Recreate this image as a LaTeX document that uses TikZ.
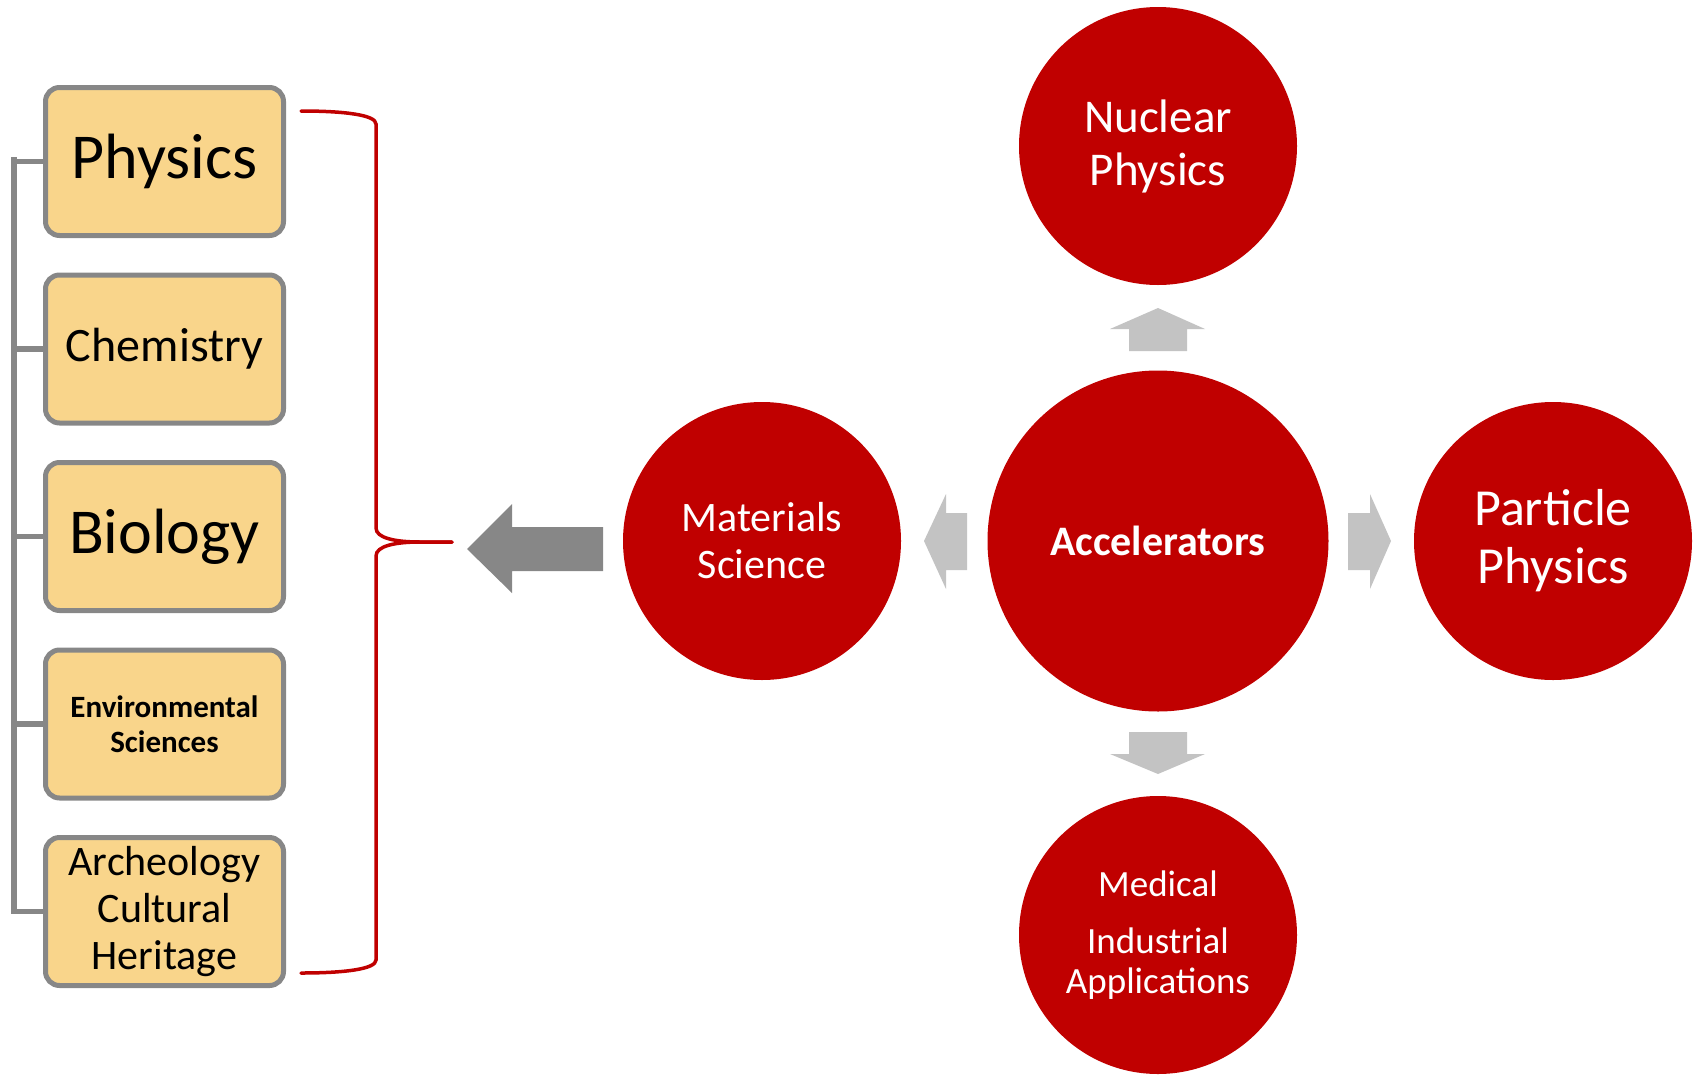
\documentclass[tikz,border=0pt]{standalone}
\usepackage{fontspec}
\setmainfont{Carlito}
\definecolor{accred}{HTML}{C00000}
\definecolor{boxfill}{HTML}{F9D58B}
\definecolor{boxline}{HTML}{878787}
\definecolor{darkarrow}{HTML}{878787}
\definecolor{lightarrow}{HTML}{C3C3C3}
\tikzset{
  fieldbox/.style={draw=boxline, fill=boxfill, line width=5pt, rounded corners=14pt,
    minimum width=238pt, minimum height=148pt, inner sep=0pt, align=center, text=black},
  bigcirc/.style={circle, fill=accred, draw=none, inner sep=0pt, text=white, align=center},
  treeline/.style={draw=boxline, line width=5.5pt},
  bracepath/.style={draw=accred, line width=3.5pt, line cap=round},
  lightblock/.style={fill=lightarrow, draw=none},
  darkblock/.style={fill=darkarrow, draw=none}
}
\begin{document}
\begin{tikzpicture}[x=1pt, y=-1pt]
\useasboundingbox (0,0) rectangle (1698,1074);

% field boxes
\node[fieldbox, font=\fontsize{64}{68}\selectfont] (phys) at (164.5,161.5) {Physics};
\node[fieldbox, font=\fontsize{48}{52}\selectfont] (chem) at (164.5,349) {Chemistry};
\node[fieldbox, font=\fontsize{64}{68}\selectfont] (bio) at (164.5,536.5) {Biology};
\node[fieldbox, font=\bfseries\fontsize{31}{35}\selectfont] (env) at (164.5,724) {Environmental\\Sciences};
\node[fieldbox, font=\fontsize{42}{47}\selectfont] (arch) at (164.5,911.5) {Archeology\\Cultural\\Heritage};

% tree line on the left
\coordinate (trunktop) at (14,157);
\draw[treeline] (trunktop) -- (trunktop |- arch.west) -- (arch.west);
\draw[treeline] (phys.west) -- (phys.west -| trunktop);
\draw[treeline] (chem.west) -- (chem.west -| trunktop);
\draw[treeline] (bio.west) -- (bio.west -| trunktop);
\draw[treeline] (env.west) -- (env.west -| trunktop);

% red brace
\coordinate (bracetip) at (452,542);
\draw[bracepath] (301,111) .. controls (345,111) and (376,115) .. (376,124)
  -- (376,528) .. controls (376,538) and (395,542) .. (420,542) -- (bracetip);
\draw[bracepath] (bracetip) -- (420,542) .. controls (395,542) and (376,546) .. (376,556)
  -- (376,960) .. controls (376,969) and (345,973) .. (301,973);

% circles
\node[bigcirc, minimum size=341pt, font=\bfseries\fontsize{42}{47}\selectfont] (acc) at (1158,541) {Accelerators};
\node[bigcirc, minimum size=278pt, font=\fontsize{42}{47}\selectfont] (mat) at (762,541) {Materials\\Science};
\node[bigcirc, minimum size=278pt, font=\fontsize{47}{53}\selectfont] (nuc) at (1158,146) {Nuclear\\Physics};
\node[bigcirc, minimum size=278pt, font=\fontsize{52}{58}\selectfont] (part) at (1553,541) {Particle\\Physics};
\node[bigcirc, minimum size=278pt, font=\fontsize{37}{40}\selectfont] (med) at (1158,935) {Medical\\[17pt]Industrial\\Applications};

% dark block arrow from Materials Science to the brace
\fill[darkblock] (603,527) -- (512,527) -- (512,504) -- (467,549) -- (512,593) -- (512,571) -- (603,571) -- cycle;

% light block arrows around Accelerators
\fill[lightblock] (967,513) -- (946,513) -- (946,494) -- (924,541) -- (946,589) -- (946,570) -- (967,570) -- cycle;
\fill[lightblock] (1348,513) -- (1370,513) -- (1370,494) -- (1391,541) -- (1370,589) -- (1370,570) -- (1348,570) -- cycle;
\fill[lightblock] (1129,351) -- (1129,329) -- (1110,329) -- (1158,308) -- (1205,329) -- (1187,329) -- (1187,351) -- cycle;
\fill[lightblock] (1129,732) -- (1129,754) -- (1110,754) -- (1158,774) -- (1205,754) -- (1187,754) -- (1187,732) -- cycle;
\end{tikzpicture}
\end{document}
